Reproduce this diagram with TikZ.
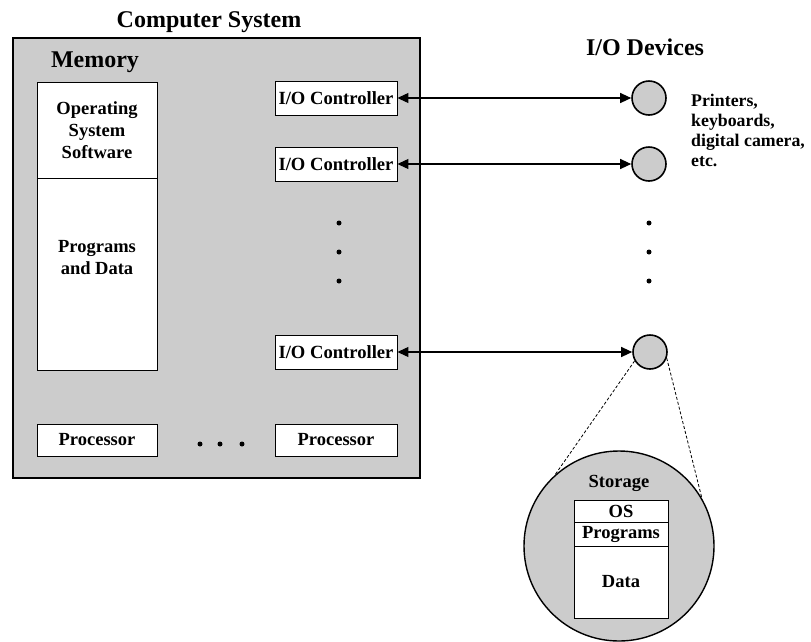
\documentclass[tikz,border=0pt]{standalone}
\usepackage{fontspec}
\setmainfont{Liberation Serif}
\usetikzlibrary{arrows.meta}
\definecolor{panel}{HTML}{CCCCCC}
\tikzset{
  x=1pt, y=-1pt,
  lbl/.style={font=\bfseries\fontsize{18.5}{22}\selectfont, inner sep=0pt, align=center},
  biglbl/.style={font=\bfseries\fontsize{24}{26}\selectfont, inner sep=0pt},
  wbox/.style={draw, fill=white, line width=0.9pt, inner sep=0pt, font=\bfseries\fontsize{18.5}{22}\selectfont, align=center},
  ctrl/.style={wbox, minimum width=122pt, minimum height=34pt, font=\bfseries\fontsize{18.6}{22}\selectfont},
  dev/.style={circle, draw, fill=panel, line width=1.6pt, minimum size=34pt, inner sep=0pt},
  dot/.style={circle, fill=black, minimum size=5pt, inner sep=0pt},
  link/.style={line width=1.1pt, {Triangle[length=11pt,width=10pt]}-{Triangle[length=11pt,width=10pt]}},
  zoomline/.style={line width=0.8pt, dash pattern=on 3pt off 2pt},
}
\begin{document}
\begin{tikzpicture}
\useasboundingbox (0,0) rectangle (811,641);
% computer system box
\node[draw, fill=panel, line width=2pt, minimum width=407pt, minimum height=440pt, inner sep=0pt] (sys) at (216.5,258) {};
\node[biglbl] (systitle) at (209,22) {Computer System};
\node[biglbl] (memlbl) at (95,62) {Memory};
% memory
\node[wbox, minimum width=120pt, minimum height=96pt] (os) at (97,130) {};
\node[lbl] (ostext) at (97,130) {Operating\\System\\Software};
\node[wbox, minimum width=120pt, minimum height=192pt] (prog) at (97,274) {};
\node[lbl] (progtext) at (97,258) {Programs\\and Data};
% controllers
\node[ctrl] (c1) at (336,98) {I/O Controller};
\node[ctrl] (c2) at (336,164) {I/O Controller};
\node[ctrl] (c3) at (336,352) {I/O Controller};
% processors
\node[wbox, minimum width=120pt, minimum height=32pt] (p1) at (97,440) {Processor};
\node[wbox, minimum width=122pt, minimum height=32pt] (p2) at (336,440) {Processor};
\node[dot] (hd1) at (200,444) {};
\node[dot] (hd2) at (220,444) {};
\node[dot] (hd3) at (242,444) {};
\node[dot] (cd1) at (339,223) {};
\node[dot] (cd2) at (339,252) {};
\node[dot] (cd3) at (339,281) {};
% devices
\node[biglbl] (devtitle) at (645,47) {I/O Devices};
\node[dev] (d1) at (649,98) {};
\node[dev] (d2) at (649,164) {};
\node[dev] (d3) at (650,352) {};
\node[dot] (dd1) at (649,223) {};
\node[dot] (dd2) at (649,252) {};
\node[dot] (dd3) at (649,281) {};
\node[font=\bfseries\fontsize{17.8}{20}\selectfont, align=left, anchor=west, inner sep=0pt] (devtext) at (691,130) {Printers,\\keyboards,\\digital camera,\\etc.};
\draw[link] (c1.east) -- (d1.west);
\draw[link] (c2.east) -- (d2.west);
\draw[link] (c3.east) -- (d3.west);
% storage
\node[circle, draw, fill=panel, line width=1.4pt, minimum size=190pt, inner sep=0pt] (stor) at (619,546) {};
\draw[zoomline] (d3.210) -- (stor.132);
\draw[zoomline] (d3.-20) -- (stor.30);
\node[lbl] (storlbl) at (619,483) {Storage};
\node[wbox, minimum width=94pt, minimum height=22pt] (sos) at (621,511) {OS};
\node[wbox, minimum width=94pt, minimum height=24pt] (sprog) at (621,534) {Programs};
\node[wbox, minimum width=94pt, minimum height=72pt] (sdata) at (621,582) {Data};
\end{tikzpicture}
\end{document}
